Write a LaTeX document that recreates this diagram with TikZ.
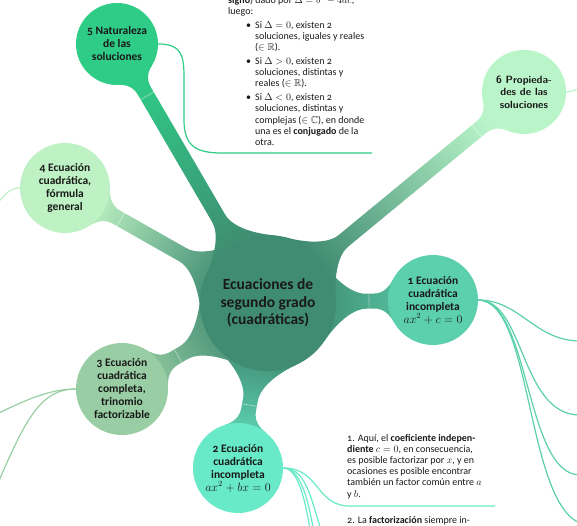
\documentclass[tikz,border=0pt]{standalone}
\usepackage[no-math]{fontspec}
\usepackage{amssymb}
\setmainfont{Carlito}[Numbers=OldStyle]
\usetikzlibrary{calc}
\pgfdeclarelayer{bg}
\pgfsetlayers{bg,main}
\definecolor{cRoot}{RGB}{64,140,114}
\definecolor{cOne}{RGB}{92,208,172}
\definecolor{cTwo}{RGB}{104,234,200}
\definecolor{cThree}{RGB}{153,206,164}
\definecolor{cFour}{RGB}{190,242,196}
\definecolor{cFive}{RGB}{46,204,134}
\definecolor{cSix}{RGB}{186,245,202}
\definecolor{ink}{RGB}{25,25,25}
\tikzset{
  topic/.style={circle, draw=none, inner sep=0pt, align=center, text=ink,
    font=\fontsize{11.5}{13}\selectfont\bfseries},
  roottopic/.style={topic, font=\fontsize{15.5}{17.5}\selectfont\bfseries},
  note/.style={anchor=base west, align=left, inner sep=0pt, text=ink,
    font=\fontsize{10}{11.2}\selectfont},
  annot/.style={line width=1.2pt},
  seam/.style={draw=white, line width=0.6pt, opacity=0.5}
}
% tapered connection bar: #1 parent, #2 child, #3 canvas angle parent->child,
% #4 parent colour, #5 child colour, #6 child radius
\newcommand\mmbar[6]{%
 \pgfmathsetmacro\mmAng{90+#3}%
 \pgfmathsetmacro\mmPa{0.883*#6}\pgfmathsetmacro\mmPb{0.469*#6}%
 \pgfmathsetmacro\mmCa{0.883*#6+4.22}\pgfmathsetmacro\mmCb{0.469*#6-7.95}%
 \pgfmathsetmacro\mmQa{#6+14}\pgfmathsetmacro\mmQc{#6+5}%
 \pgfmathsetmacro\mmS{#6+19}%
 \shade[left color=#4, right color=#5, shading angle=\mmAng]
  ($(#1)!45pt!(#2)$)
  -- ($(#1)!55.7pt!(#2)!39pt!90:(#2)$)
  .. controls ($(#1)!64.9pt!(#2)!25.9pt!90:(#2)$) and ($(#1)!82pt!(#2)!7.5pt!90:(#2)$) .. ($(#1)!98pt!(#2)!7.5pt!90:(#2)$)
  -- ($(#2)!\mmQa pt!(#1)!7.5pt!-90:(#1)$)
  .. controls ($(#2)!\mmQc pt!(#1)!7.5pt!-90:(#1)$) and ($(#2)!\mmCa pt!(#1)!\mmCb pt!-90:(#1)$) .. ($(#2)!\mmPa pt!(#1)!\mmPb pt!-90:(#1)$)
  -- (#2.center)
  -- ($(#2)!\mmPa pt!(#1)!\mmPb pt!90:(#1)$)
  .. controls ($(#2)!\mmCa pt!(#1)!\mmCb pt!90:(#1)$) and ($(#2)!\mmQc pt!(#1)!7.5pt!90:(#1)$) .. ($(#2)!\mmQa pt!(#1)!7.5pt!90:(#1)$)
  -- ($(#1)!98pt!(#2)!7.5pt!-90:(#2)$)
  .. controls ($(#1)!82pt!(#2)!7.5pt!-90:(#2)$) and ($(#1)!64.9pt!(#2)!25.9pt!-90:(#2)$) .. ($(#1)!55.7pt!(#2)!39pt!-90:(#2)$)
  -- cycle;
 \draw[seam] ($(#2)!\mmS pt!(#1)!7.5pt!90:(#1)$) -- ($(#2)!\mmS pt!(#1)!7.5pt!-90:(#1)$);
}
\begin{document}
\begin{tikzpicture}[x=1pt,y=-1pt]
\path[use as bounding box] (0,0) rectangle (577,526);
\clip (0,0) rectangle (577,526);
% topics
\node[roottopic, fill=cRoot, minimum size=136pt] (root) at (268,303)
  {Ecuaciones de\\segundo grado\\(cuadráticas)};
\node[topic, fill=cOne, minimum size=90pt] (n1) at (433,300)
  {1 Ecuación\\cuadrática\\incompleta\\$ax^2+c=0$};
\node[topic, fill=cTwo, minimum size=90pt] (n2) at (238,468)
  {2 Ecuación\\cuadrática\\incompleta\\$ax^2+bx=0$};
\node[topic, fill=cThree, minimum size=92pt] (n3) at (122,389)
  {3 Ecuación\\cuadrática\\completa,\\trinomio\\factorizable};
\node[topic, fill=cFour, minimum size=90pt] (n4) at (65,188)
  {4 Ecuación\\cuadrática,\\fórmula\\general};
\node[topic, fill=cFive, minimum size=82pt] (n5) at (117,44)
  {5 Naturaleza\\de las\\soluciones};
\node[topic, fill=cSix, minimum size=84pt, font=\fontsize{10.5}{12.5}\selectfont\sffamily\bfseries] (n6) at (524,92)
  {6 Propieda-\\des de las\\soluciones};
% bars
\begin{pgfonlayer}{bg}
\mmbar{root}{n1}{1.04}{cRoot}{cOne}{45}
\mmbar{root}{n2}{-100.3}{cRoot}{cTwo}{45}
\mmbar{root}{n3}{-149.5}{cRoot}{cThree}{46}
\mmbar{root}{n4}{150.47}{cRoot}{cFour}{45}
\mmbar{root}{n5}{120.24}{cRoot}{cFive}{41}
\mmbar{root}{n6}{39.49}{cRoot}{cSix}{42}
\end{pgfonlayer}
% annotation connectors
\coordinate (e5) at (372,153);
\draw[annot, draw=cFive] (n5.east) .. controls (182,44) and (184,56) .. (184,78) -- (184,120)
  .. controls (184,146) and (196,153) .. (222,153) -- (e5);
\coordinate (e6) at (582,89);
\draw[annot, draw=cSix] (n6.east) .. controls (572,92) and (575,89) .. (e6);
\coordinate (e4) at (-3,204);
\draw[annot, draw=cFour] (n4.west) .. controls (10,188) and (5,194) .. (e4);
\coordinate (e3a) at (-5,415);
\coordinate (e3b) at (-5,490);
\draw[annot, draw=cThree] (n3.west) .. controls (50,389) and (25,400) .. (e3a);
\draw[annot, draw=cThree] (n3.west) .. controls (40,389) and (25,420) .. (e3b);
\coordinate (e2a) at (495,506);
\coordinate (e2b) at (350,560);
\coordinate (e2c) at (350,620);
\coordinate (e2d) at (350,680);
\draw[annot, draw=cTwo] (n2.east) .. controls (320,468) and (315,506) .. (350,506) -- (e2a);
\draw[annot, draw=cTwo] (n2.east) .. controls (322,468) and (310,560) .. (e2b);
\draw[annot, draw=cTwo] (n2.east) .. controls (322,468) and (310,620) .. (e2c);
\draw[annot, draw=cTwo] (n2.east) .. controls (322,468) and (310,680) .. (e2d);
\coordinate (e1a) at (580,341);
\coordinate (e1b) at (580,415);
\coordinate (e1c) at (580,475);
\coordinate (e1d) at (590,525);
\draw[annot, draw=cOne] (n1.east) .. controls (520,300) and (535,341) .. (e1a);
\draw[annot, draw=cOne] (n1.east) .. controls (525,300) and (520,415) .. (e1b);
\draw[annot, draw=cOne] (n1.east) .. controls (530,300) and (525,475) .. (e1c);
\draw[annot, draw=cOne] (n1.east) .. controls (535,300) and (525,525) .. (e1d);
% notes, top (node base = baseline of last line)
\node[note] (t0) at (228,15) {\textbf{signo}) dado por $\Delta = b^2 - 4ac$,\\luego:};
\node[note] (b1) at (246,28.5) {\textbullet};
\node[note] (t1) at (255,50.9) {Si $\Delta = 0$, existen 2\\soluciones, iguales y reales\\($\in \mathbb{R}$).};
\node[note] (b2) at (246,64.6) {\textbullet};
\node[note] (t2) at (255,87) {Si $\Delta > 0$, existen 2\\soluciones, distintas y\\reales ($\in \mathbb{R}$).};
\node[note] (b3) at (246,100.7) {\textbullet};
\node[note] (t3) at (255,145.5) {Si $\Delta < 0$, existen 2\\soluciones, distintas y\\complejas ($\in \mathbb{C}$), en donde\\una es el \textbf{conjugado} de la\\otra.};
% notes, bottom
\node[note] (u1) at (347,497) {1. Aquí, el \textbf{coeficiente indepen-}\\\textbf{diente} $c = 0$, en consecuencia,\\es posible factorizar por $x$, y en\\ocasiones es posible encontrar\\también un factor común entre $a$\\y $b$.};
\node[note] (u2) at (347,523) {2. La \textbf{factorización} siempre in-};
\end{tikzpicture}
\end{document}
